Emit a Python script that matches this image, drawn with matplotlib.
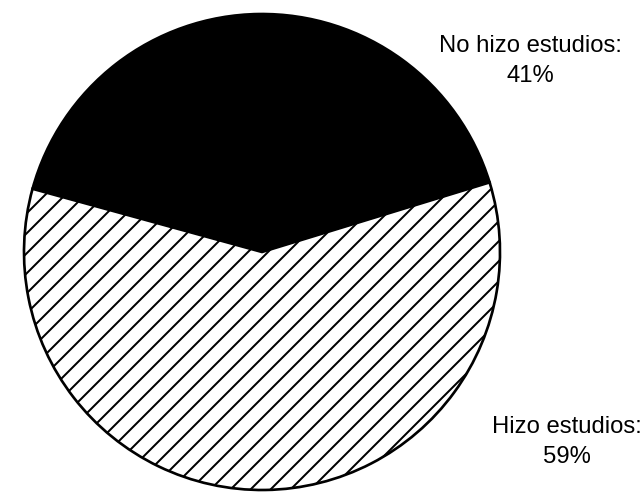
import matplotlib

matplotlib.use("Agg")
import matplotlib.pyplot as plt

# share of respondents
labels = ["No hizo estudios", "Hizo estudios"]
shares = [41, 59]
fills = ["black", "white"]
hatches = ["", "//"]

DPI = 120
W, H = 643, 493

plt.rcParams["font.family"] = ["Liberation Sans", "DejaVu Sans"]
plt.rcParams["hatch.linewidth"] = 1.2

fig = plt.figure(figsize=(W / DPI, H / DPI), dpi=DPI)
fig.patch.set_facecolor("white")

# pie centre ~ (262, 252) px, radius ~ 238 px
cx, cy, r = 262, 252, 238
ax = fig.add_axes([(cx - r) / W, (H - cy - r) / H, 2 * r / W, 2 * r / H])

wedges, _ = ax.pie(
    shares,
    colors=fills,
    startangle=17,
    counterclock=True,
    radius=1.0,
    wedgeprops=dict(edgecolor="black", linewidth=1.6),
)
for w, h in zip(wedges, hatches):
    w.set_hatch(h)
    w.set_clip_on(False)

ax.set_xlim(-1, 1)
ax.set_ylim(-1, 1)
ax.set_aspect("equal")
ax.axis("off")

# labels placed beside the pie
fig.text(530 / W, 1 - 61 / H, f"{labels[0]}:\n{shares[0]}%",
         ha="center", va="center", multialignment="center",
         fontsize=14.3, linespacing=1.5)
fig.text(567 / W, 1 - 442 / H, f"{labels[1]}:\n{shares[1]}%",
         ha="center", va="center", multialignment="center",
         fontsize=14.3, linespacing=1.5)

fig.savefig("out.png", dpi=DPI, facecolor="white")
plt.close(fig)
